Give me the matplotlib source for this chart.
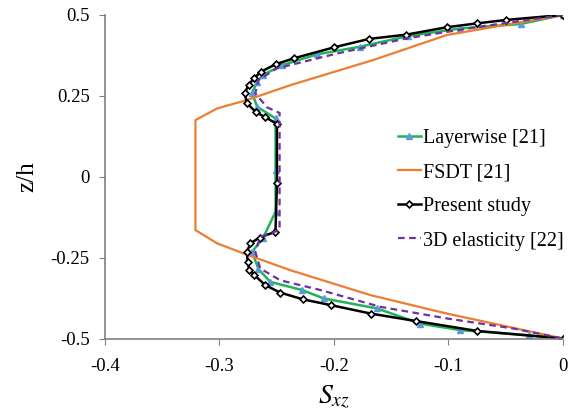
import matplotlib.pyplot as plt
import numpy as np

plt.rcParams.update({'font.family': 'Liberation Serif', 'font.size': 13,
                     'mathtext.fontset': 'stix'})

# Present study (black, hollow diamonds)
present_x = [0, -0.0495, -0.0748, -0.1013, -0.1369, -0.1692, -0.1998, -0.2349, -0.2507, -0.2635,
             -0.270, -0.2746, -0.278, -0.276, -0.268, -0.260, -0.2498, -0.2498,
             -0.2511, -0.265, -0.273, -0.276, -0.2755, -0.274, -0.2696, -0.260, -0.247,
             -0.227, -0.2024, -0.1677, -0.1284, -0.0751, 0]
present_z = [0.5, 0.4845, 0.474, 0.462, 0.439, 0.426, 0.400, 0.366, 0.348, 0.325,
             0.304, 0.283, 0.258, 0.227, 0.199, 0.184, 0.163, -0.02,
             -0.170, -0.188, -0.206, -0.232, -0.263, -0.287, -0.304, -0.335, -0.358,
             -0.379, -0.397, -0.423, -0.446, -0.4765, -0.5]

# Layerwise [21] (green line, blue triangles)
layer_x = [0, -0.037, -0.09, -0.135, -0.177, -0.215, -0.245, -0.262, -0.267, -0.2716, -0.267,
           -0.251, -0.251, -0.251, -0.262, -0.2716, -0.266, -0.2556, -0.228, -0.209,
           -0.1624, -0.1246, -0.0897, -0.03, 0]
layer_z = [0.5, 0.472, 0.458, 0.435, 0.402, 0.378, 0.345, 0.315, 0.294, 0.258, 0.216,
           0.18, 0.02, -0.108, -0.19, -0.232, -0.285, -0.325, -0.35, -0.376,
           -0.407, -0.454, -0.474, -0.49, -0.5]

# FSDT [21] (orange)
fsdt_x = [0, -0.1013, -0.1654, -0.238, -0.276, -0.302, -0.321, -0.321,
          -0.302, -0.279, -0.238, -0.168, -0.1013, 0]
fsdt_z = [0.5, 0.438, 0.361, 0.283, 0.237, 0.211, 0.175, -0.165,
          -0.206, -0.237, -0.289, -0.366, -0.423, -0.5]

# 3D elasticity [22] (purple dashed)
elas_x = [0, -0.0722, -0.136, -0.197, -0.2498, -0.266, -0.2687, -0.2585, -0.2475, -0.2475,
          -0.2644, -0.2687, -0.2644, -0.247, -0.212, -0.1596, -0.1013, -0.0434, 0]
elas_z = [0.5, 0.464, 0.428, 0.381, 0.335, 0.299, 0.258, 0.2145, 0.197, -0.165,
          -0.186, -0.232, -0.2835, -0.32, -0.35, -0.402, -0.438, -0.469, -0.5]

xticks = [-0.4, -0.3, -0.2, -0.1, 0]
xticklabels = ['-0.4', '-0.3', '-0.2', '-0.1', '0']
yticks = [-0.5, -0.25, 0, 0.25, 0.5]
yticklabels = ['-0.5', '-0.25', '0', '0.25', '0.5']

fig = plt.figure(figsize=(5.75, 4.17), dpi=100)
ax = fig.add_axes([0.1826, 0.1882, 0.7964, 0.776])

ax.plot(layer_x, layer_z, color='#1fb35a', lw=1.8, marker='^', ms=5,
        mfc='#5b9bd5', mec='#5b9bd5', label='Layerwise [21]')
ax.plot(fsdt_x, fsdt_z, color='#ed7d31', lw=1.6, label='FSDT [21]')
ax.plot(present_x, present_z, color='black', lw=1.8, marker='D', ms=3.5,
        mfc='white', mec='black', mew=1.2, label='Present study')
ax.plot(elas_x, elas_z, color='#7030a0', lw=1.6, ls=(0, (3, 2)), label='3D elasticity [22]')

ax.set_xlim(-0.4, 0)
ax.set_ylim(-0.5, 0.5)
ax.set_xticks(xticks)
ax.set_xticklabels(xticklabels)
ax.set_yticks(yticks)
ax.set_yticklabels(yticklabels)
ax.tick_params(axis='x', direction='out', length=4, pad=10, color='#808080', labelsize=13.5)
ax.tick_params(axis='y', direction='out', length=4, pad=7, color='#808080', labelsize=13.5)
for s in ['top', 'right']:
    ax.spines[s].set_visible(False)
for s in ['left', 'bottom']:
    ax.spines[s].set_color('#808080')
    ax.spines[s].set_linewidth(1.2)

ax.set_xlabel(r'$S_{xz}$', fontsize=20, labelpad=6)
ax.set_ylabel('z/h', fontsize=18, labelpad=9)

ax.legend(loc='center left', bbox_to_anchor=(0.6, 0.46), frameon=False,
          fontsize=14.5, handlelength=1.15, handletextpad=0.1, labelspacing=0.75)

fig.savefig('out.png', dpi=100)
